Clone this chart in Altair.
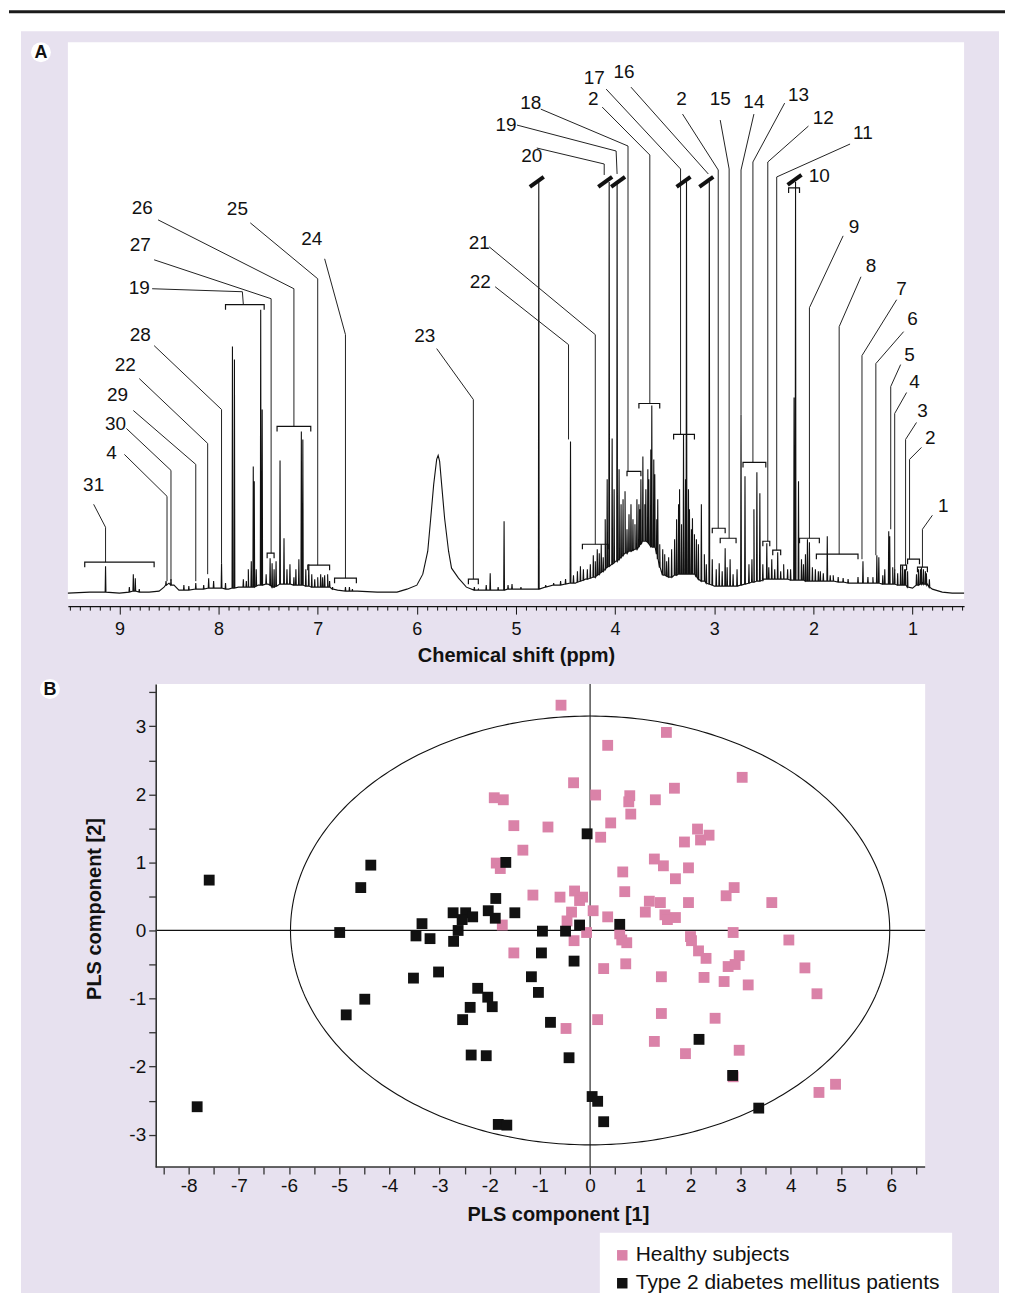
import altair as alt
import numpy as np
import pandas as pd

FONT = "Liberation Sans"
INK = "#111111"
LAVENDER = "#e7e1ef"
PINK = "#da82a8"

# ======================= Panel A : 1H NMR spectrum =======================
# baseline envelope (ppm, intensity)
BASE_PPM = [9.52, 9.3, 9.0, 8.7, 8.6, 8.55, 8.5, 8.45, 8.4, 8.2, 8.0, 7.9, 7.8, 7.7, 7.6, 7.5,
            7.45, 7.3, 7.2, 7.0, 6.9, 6.8, 6.6, 6.4, 6.2, 6.1, 6.0, 5.94, 5.89, 5.86, 5.83, 5.80,
            5.785, 5.77, 5.75, 5.72, 5.68, 5.65, 5.58, 5.5, 5.4, 5.2, 5.0, 4.85, 4.6, 4.4, 4.3,
            4.2, 4.1, 4.0, 3.9, 3.8, 3.7, 3.6, 3.55, 3.5, 3.45, 3.35, 3.2, 3.1, 3.0, 2.8, 2.6,
            2.5, 2.3, 2.2, 2.0, 1.8, 1.6, 1.4, 1.2, 1.05, 1.0, 0.9, 0.85, 0.8, 0.7, 0.6, 0.48]
BASE_INT = [6, 7, 6, 7, 8, 12, 16, 14, 9, 10, 11, 10, 12, 12, 14, 15,
            12, 15, 14, 12, 12, 9, 8, 7, 7, 10, 14, 25, 48, 81, 115, 140,
            144, 138, 115, 81, 48, 31, 21, 12, 9, 9, 10, 10, 14, 16, 20,
            22, 31, 38, 46, 50, 58, 52, 32, 24, 22, 25, 25, 18, 13, 13, 17,
            20, 20, 19, 18, 18, 16, 16, 15, 14, 11, 16, 15, 10, 7, 6, 6]

# sharp resonances: (ppm, top intensity, local baseline)
PEAKS = [
    (9.14, 33, 7), (8.86, 25, 8), (8.84, 21, 8), (8.53, 18, 14), (8.48, 20, 14), (8.23, 16, 10),
    (8.10, 21, 11), (7.97, 36, 11), (7.86, 253, 11), (7.84, 240, 11), (7.67, 38, 12),
    (7.65, 133, 12), (7.64, 118, 12), (7.575, 290, 14), (7.56, 190, 14), (7.48, 41, 14),
    (7.46, 36, 12), (7.44, 30, 12), (7.38, 139, 15), (7.34, 61, 15), (7.31, 30, 15),
    (7.24, 22, 14), (7.165, 168, 14), (7.15, 160, 14), (7.06, 25, 12), (7.00, 22, 12),
    (6.97, 25, 12), (6.93, 24, 12), (6.88, 18, 12), (6.68, 12, 8), (5.42, 12, 9), (5.38, 10, 9),
    (5.26, 26, 9), (5.12, 78, 9), (5.04, 15, 10), (4.77, 418, 10), (4.45, 158, 16),
    (4.35, 33, 18), (4.28, 30, 20), (4.20, 38, 22), (4.16, 46, 25), (4.12, 42, 28),
    (4.06, 418, 33), (4.03, 161, 35), (3.98, 418, 38), (3.96, 130, 40), (3.92, 100, 44),
    (3.90, 108, 46), (3.86, 85, 48), (3.84, 95, 48), (3.80, 75, 50), (3.78, 100, 50),
    (3.75, 90, 54), (3.72, 143, 58), (3.69, 110, 58), (3.66, 120, 55), (3.63, 194, 52),
    (3.60, 125, 52), (3.57, 100, 40), (3.52, 50, 24), (3.46, 42, 22), (3.40, 60, 24),
    (3.35, 110, 25), (3.31, 165, 25), (3.28, 418, 25), (3.25, 90, 25), (3.22, 81, 25),
    (3.18, 60, 22), (3.13, 95, 18), (3.05, 418, 15), (3.02, 40, 14), (2.95, 36, 13),
    (2.89, 51, 13), (2.84, 40, 13), (2.73, 185, 14), (2.69, 123, 15), (2.65, 35, 16),
    (2.57, 127, 18), (2.54, 106, 18), (2.47, 56, 20), (2.42, 40, 20), (2.36, 47, 20),
    (2.30, 35, 20), (2.26, 30, 20), (2.195, 202, 19), (2.18, 418, 19), (2.15, 118, 19),
    (2.10, 35, 19), (2.06, 60, 18), (2.04, 57, 18), (1.98, 30, 18), (1.93, 28, 18),
    (1.86, 63, 18), (1.80, 24, 18), (1.50, 38, 16), (1.45, 22, 16), (1.36, 44, 16),
    (1.34, 42, 16), (1.24, 68, 15), (1.23, 63, 15), (1.18, 30, 15), (1.12, 33, 14),
    (1.10, 34, 14), (1.07, 30, 14), (1.05, 28, 12), (0.94, 30, 14), (0.91, 32, 15),
    (0.89, 30, 15), (0.86, 26, 14),
]
# small spikes that make up the crowded baseline
MINOR_PEAKS = [
    (8.90, 12, 7), (8.80, 10, 7), (8.35, 14, 9), (8.30, 13, 9), (8.15, 14, 10), (8.05, 18, 11),
    (7.93, 16, 10), (7.75, 20, 12), (7.72, 18, 12), (7.70, 30, 12), (7.62, 30, 13),
    (7.52, 25, 15), (7.42, 38, 13), (7.28, 35, 15), (7.22, 30, 14), (7.19, 40, 14),
    (7.12, 30, 13), (7.09, 35, 13), (7.03, 20, 12), (6.95, 22, 12), (6.90, 25, 12),
    (6.85, 12, 10), (6.72, 12, 8), (6.65, 10, 8), (5.30, 14, 9), (5.18, 12, 9), (5.08, 14, 10),
    (4.95, 12, 10), (4.70, 14, 12), (4.62, 16, 14), (4.55, 18, 14), (4.50, 20, 15),
    (4.42, 24, 16), (4.38, 28, 17), (4.32, 30, 19), (4.25, 35, 21), (4.22, 44, 22),
    (4.18, 50, 24), (4.14, 55, 27), (4.10, 80, 30), (4.08, 120, 32), (4.01, 110, 36),
    (3.94, 95, 42), (3.88, 70, 46), (3.82, 80, 49), (3.76, 95, 52), (3.74, 120, 55),
    (3.70, 95, 58), (3.67, 130, 57), (3.64, 150, 53), (3.61, 140, 52), (3.58, 80, 45),
    (3.55, 55, 32), (3.50, 45, 24), (3.48, 38, 23), (3.43, 50, 22), (3.38, 80, 24),
    (3.36, 95, 25), (3.33, 75, 25), (3.29, 120, 25), (3.26, 110, 25), (3.23, 70, 25),
    (3.20, 65, 25), (3.16, 55, 20), (3.10, 45, 18), (3.08, 35, 16), (2.98, 30, 13),
    (2.92, 28, 13), (2.87, 32, 13), (2.81, 25, 13), (2.77, 30, 13), (2.62, 40, 17),
    (2.60, 90, 17), (2.51, 35, 19), (2.45, 32, 20), (2.39, 30, 20), (2.33, 28, 20),
    (2.23, 30, 19), (2.12, 40, 19), (2.08, 45, 18), (2.01, 32, 18), (1.95, 28, 18),
    (1.90, 26, 18), (1.83, 24, 18), (1.75, 22, 17), (1.70, 21, 17), (1.65, 20, 16),
    (1.55, 22, 16), (1.40, 22, 16), (1.30, 24, 15), (1.28, 30, 15), (1.20, 32, 15),
    (1.15, 26, 14), (1.08, 30, 14), (0.96, 25, 14), (0.92, 30, 15), (0.87, 28, 15),
    (0.83, 20, 12),
]

# truncated (off-scale) peaks: break marks (ppm, intensity)
BREAKS = [(4.79, 418), (4.10, 418), (3.97, 418), (3.31, 418), (3.08, 418), (2.19, 420)]

# assignment brackets: (left ppm, right ppm, intensity)
BRACKETS = [
    (9.35, 8.65, 37), (7.93, 7.54, 295), (7.51, 7.44, 46), (7.41, 7.07, 173), (7.10, 6.88, 34),
    (6.83, 6.61, 21), (5.48, 5.38, 20), (4.33, 4.07, 55), (3.88, 3.74, 128), (3.76, 3.55, 196),
    (3.41, 3.20, 165), (3.02, 2.89, 71), (2.94, 2.78, 61), (2.71, 2.48, 137), (2.51, 2.44, 58),
    (2.41, 2.33, 49), (2.25, 2.14, 412), (2.14, 1.94, 61), (1.97, 1.55, 45), (1.12, 1.06, 34),
    (1.05, 0.93, 40), (0.95, 0.85, 32),
]

# metabolite numbers and their leader lines
LABEL_TEXT = ["31", "4", "30", "29", "22", "28", "19", "27", "26", "25", "24", "23", "22", "21",
              "20", "19", "18", "2", "17", "16", "2", "15", "14", "13", "12", "11", "10", "9",
              "8", "7", "6", "5", "4", "3", "2", "1"]
LABEL_PPM = [9.26, 9.08, 9.04, 9.02, 8.94, 8.79, 8.80, 8.79, 8.77, 7.81, 7.06, 5.92, 5.36, 5.37,
             4.84, 5.10, 4.85, 4.22, 4.21, 3.91, 3.33, 2.94, 2.60, 2.15, 1.90, 1.50, 1.94, 1.59,
             1.42, 1.11, 1.00, 1.03, 0.98, 0.90, 0.82, 0.69]
LABEL_INT = [114, 146, 175, 205, 235, 265, 312, 355, 392, 391, 361, 264, 318, 357,
             444, 475, 497, 501, 522, 528, 501, 501, 498, 505, 482, 467, 424, 373,
             334, 311, 281, 245, 218, 188, 161, 93]
LEADER_PPM = [
    [9.26, 9.14, 9.14], [8.95, 8.52, 8.52], [8.93, 8.48, 8.48], [8.86, 8.23, 8.23],
    [8.80, 8.11, 8.11], [8.65, 7.97, 7.97], [8.67, 7.76, 7.75], [8.65, 7.47, 7.47],
    [8.61, 7.24, 7.24], [7.68, 7.00, 7.00], [6.93, 6.72, 6.72], [5.80, 5.43, 5.43],
    [5.21, 4.47, 4.47], [5.27, 4.20, 4.20], [4.79, 4.11, 4.11], [4.99, 3.99, 3.98],
    [4.75, 3.87, 3.87], [4.13, 3.65, 3.65], [4.09, 3.34, 3.34], [3.84, 3.06],
    [3.32, 2.96, 2.96], [2.94, 2.85, 2.85], [2.60, 2.73, 2.73], [2.29, 2.61, 2.61],
    [2.05, 2.46, 2.46], [1.63, 2.37, 2.37], [], [1.70, 2.04, 2.04],
    [1.52, 1.74, 1.74], [1.16, 1.51, 1.51], [1.09, 1.37, 1.37], [1.12, 1.22, 1.22],
    [1.06, 1.18, 1.18], [0.96, 1.07, 1.07], [0.91, 1.03, 1.03], [0.80, 0.90, 0.90],
]
LEADER_INT = [
    [95, 72, 37], [145, 103, 18], [171, 129, 18], [189, 135, 18],
    [221, 156, 25], [254, 190, 36], [311, 308, 295], [340, 301, 46],
    [380, 311, 173], [377, 321, 34], [341, 265, 21], [251, 200, 20],
    [313, 255, 160], [353, 265, 55], [452, 436, 425], [475, 449, 426],
    [491, 454, 128], [493, 445, 196], [511, 431, 165], [513, 426],
    [486, 430, 71], [480, 431, 61], [486, 430, 185], [497, 438, 137],
    [474, 438, 58], [456, 423, 49], [], [364, 292, 61],
    [323, 273, 45], [300, 244, 40], [268, 236, 44], [235, 213, 70],
    [207, 186, 28], [177, 160, 34], [152, 140, 40], [84, 70, 32],
]

A_TICKS = [round(9.5 - 0.1 * k, 1) for k in range(91)]

# ======================= Panel B : PLS scores =======================
HEALTHY_X = [-0.58, 0.35, 1.52, -0.33, 3.03, -1.91, -1.73, 0.11, 0.79, 0.77, 1.30, 1.68, 0.81,
             -1.52, -0.84, 0.41, 0.21, -1.34, 2.14, 2.20, 2.37, 1.88, -1.87, -1.79, 1.28, 1.46,
             1.96, 0.65, 1.70, -1.14, -0.60, -0.31, -0.15, -0.21, 0.69, 2.87, 2.71, 3.62, 1.18,
             1.40, 1.10, 1.96, 0.06, -0.37, -0.46, -1.75, 0.35, 1.49, 1.70, 1.54, -0.07, -0.32,
             0.59, 0.63, 0.73, 2.00, 2.02, 2.85, 3.96, 2.16, 2.31, 2.97, 2.75, 2.89, 0.27, 0.71,
             1.42, 2.27, 2.67, 3.15, 4.28, 4.52, -1.52, 0.15, 1.42, 2.49, -0.48, 1.28, 1.90,
             2.97, 2.85, 4.56, 4.89]
HEALTHY_Y = [3.31, 2.72, 2.91, 2.17, 2.25, 1.95, 1.92, 1.99, 1.98, 1.89, 1.92, 2.09, 1.71,
             1.54, 1.52, 1.58, 1.37, 1.18, 1.49, 1.33, 1.40, 1.30, 0.99, 0.91, 1.05, 0.95,
             0.92, 0.86, 0.76, 0.52, 0.49, 0.58, 0.49, 0.44, 0.57, 0.63, 0.51, 0.41, 0.43,
             0.41, 0.27, 0.41, 0.29, 0.27, 0.14, 0.08, 0.20, 0.23, 0.19, 0.16, -0.03, -0.15,
             -0.05, -0.14, -0.18, -0.09, -0.15, -0.03, -0.14, -0.30, -0.41, -0.37, -0.53, -0.50,
             -0.56, -0.49, -0.68, -0.69, -0.75, -0.80, -0.55, -0.93, -0.33, -1.31, -1.22, -1.29,
             -1.44, -1.63, -1.81, -1.76, -2.15, -2.38, -2.26]
T2DM_X = [-7.59, -4.37, -4.57, -1.68, -0.06, -1.88, -2.73, -2.48, -2.55, -2.34, -2.03, -1.89,
          -1.50, -3.35, -4.99, -3.47, -3.19, -2.63, -2.72, -0.95, -0.49, -0.21, 0.59, -0.97,
          -0.32, -3.02, -3.52, -1.17, -2.24, -1.03, -2.04, -1.95, -4.49, -4.86, -2.39, -2.54,
          -0.79, -2.37, -2.07, -0.42, -7.83, -1.83, -1.66, 0.04, 0.15, 0.27, 2.17, 2.84, 3.36]
T2DM_Y = [0.74, 0.96, 0.63, 1.00, 1.42, 0.47, 0.26, 0.26, 0.16, 0.20, 0.29, 0.18,
          0.26, 0.10, -0.03, -0.08, -0.12, 0.00, -0.16, -0.01, -0.01, 0.08, 0.09, -0.33,
          -0.45, -0.61, -0.70, -0.68, -0.85, -0.91, -0.98, -1.12, -1.01, -1.24, -1.13, -1.31,
          -1.35, -1.83, -1.84, -1.87, -2.59, -2.85, -2.86, -2.44, -2.51, -2.81, -1.60, -2.13, -2.61]
GROUPS = ["Healthy subjects", "Type 2 diabetes mellitus patients"]

ELLIPSE_RX, ELLIPSE_RY = 5.97, 3.15          # Hotelling T2 ellipse semi-axes
X_B_DOMAIN = [-10.406, 6.676]
Y_B_DOMAIN = [-3.475, 3.622]
B_PLOT_LEFT = -8.656
B_X_TICKS = [-8.5 + 0.5 * k for k in range(31)]
B_Y_TICKS = [-3.5 + 0.5 * k for k in range(15)]

# ======================= build tables =======================
HW = 0.004
pts = list(zip(BASE_PPM, BASE_INT))
for p, top, base in PEAKS + MINOR_PEAKS:
    pts += [(p + HW, base), (p, top), (p - HW, base)]
pts.sort(key=lambda t: -t[0])
spec_df = pd.DataFrame({"ppm": [a for a, _ in pts], "intensity": [b for _, b in pts],
                        "i": range(len(pts))})

lead_rows = []
for k, (pp, vv) in enumerate(zip(LEADER_PPM, LEADER_INT)):
    for s, (a, b) in enumerate(zip(pp, vv)):
        lead_rows.append({"id": k, "s": s, "ppm": a, "intensity": b})
lead_df = pd.DataFrame(lead_rows)

TICK = 5
br_rows = []
for k, (l, r, v) in enumerate(BRACKETS):
    for s, (a, b) in enumerate([(l, v - TICK), (l, v), (r, v), (r, v - TICK)]):
        br_rows.append({"id": k, "s": s, "ppm": a, "intensity": b})
br_df = pd.DataFrame(br_rows)

brk_df = pd.DataFrame({"ppm": [p + 0.07 for p, _ in BREAKS], "ppm_end": [p - 0.07 for p, _ in BREAKS],
                       "intensity": [v - 5 for _, v in BREAKS], "intensity_end": [v + 5 for _, v in BREAKS]})
lab_df = pd.DataFrame({"ppm": LABEL_PPM, "intensity": LABEL_INT, "t": LABEL_TEXT})

one = pd.DataFrame({"k": [0]})

xA = alt.Scale(domain=[9.52, 0.48], nice=False, zero=False)
yA = alt.Scale(domain=[0, 558], nice=False, zero=False)
axisA = alt.Axis(values=A_TICKS, labelExpr="datum.value % 1 === 0 ? '' + datum.value : ''",
                 tickSize={"condition": {"test": "datum.value % 1 === 0", "value": 8}, "value": 4},
                 offset=7, grid=False, domainColor=INK, domainWidth=1.3, tickColor=INK,
                 tickWidth=1, labelFontSize=18, labelColor=INK, labelPadding=6,
                 labelFlush=False, labelOverlap=False, zindex=1,
                 titleFontSize=20, titleFontWeight="bold", titleColor=INK, titlePadding=8)
TITLE_A = "Chemical shift (ppm)"


def XA(f="ppm"):
    return alt.X(f"{f}:Q", scale=xA, axis=axisA, title=TITLE_A)


def YA(f="intensity"):
    return alt.Y(f"{f}:Q", scale=yA, axis=None)


dark = alt.Chart(one).mark_rect(color="#1b1b1b").encode(
    x=alt.value(-59), x2=alt.value(939), y=alt.value(-32), y2=alt.value(-29))
lav = alt.Chart(one).mark_rect(color=LAVENDER).encode(
    x=alt.value(-47), x2=alt.value(933), y=alt.value(-11), y2=alt.value(1262))
whiteA = alt.Chart(one).mark_rect(color="white").encode(
    x=alt.value(0), x2=alt.value(898), y=alt.value(0), y2=alt.value(558))

spectrum = alt.Chart(spec_df).mark_line(color=INK, strokeWidth=1.1).encode(
    x=XA(), y=YA(), order="i:Q")
leaders = alt.Chart(lead_df).mark_line(color="#222222", strokeWidth=1).encode(
    x=XA(), y=YA(), detail="id:N", order="s:Q")
brackets = alt.Chart(br_df).mark_line(color=INK, strokeWidth=1.2).encode(
    x=XA(), y=YA(), detail="id:N", order="s:Q")
breaks = alt.Chart(brk_df).mark_rule(color=INK, strokeWidth=4).encode(
    x=XA(), x2="ppm_end:Q", y=YA(), y2="intensity_end:Q")
labels = alt.Chart(lab_df).mark_text(fontSize=19, color=INK, font=FONT).encode(
    x=XA(), y=YA(), text="t:N")
badgeA = alt.Chart(one).mark_point(shape="circle", size=400, filled=True, fill="white",
                                   opacity=1, strokeWidth=0).encode(x=alt.value(-27), y=alt.value(10))
letterA = alt.Chart(one).mark_text(text="A", fontSize=18, fontWeight="bold", color=INK,
                                   font=FONT).encode(x=alt.value(-27), y=alt.value(11))

panelA = alt.layer(dark, lav, whiteA, spectrum, leaders, brackets, breaks, labels,
                   badgeA, letterA).properties(width=898, height=558)

# ---------- panel B ----------
pts_df = pd.DataFrame({
    "x": HEALTHY_X + T2DM_X,
    "y": HEALTHY_Y + T2DM_Y,
    "group": [GROUPS[0]] * len(HEALTHY_X) + [GROUPS[1]] * len(T2DM_X),
})
theta = np.linspace(0, 2 * np.pi, 361)
ell_df = pd.DataFrame({"x": ELLIPSE_RX * np.cos(theta), "y": ELLIPSE_RY * np.sin(theta),
                       "i": np.arange(361)})

xB = alt.Scale(domain=X_B_DOMAIN, nice=False, zero=False)
yB = alt.Scale(domain=Y_B_DOMAIN, nice=False, zero=False)
LBL = "datum.value % 1 === 0 ? '' + datum.value : ''"
axisBx = alt.Axis(values=B_X_TICKS, labelExpr=LBL, tickSize=7, domain=False, grid=False,
                  tickColor="#333333", tickWidth=1.3, labelFontSize=19, labelColor=INK,
                  labelPadding=3, labelFlush=False, labelOverlap=False,
                  titleFontSize=20, titleFontWeight="bold", titleColor=INK, titlePadding=9,
                  titleX=491, zindex=1)
axisBy = alt.Axis(values=B_Y_TICKS, labelExpr=LBL, tickSize=7, offset=-88, grid=False,
                  domainColor="#333333", domainWidth=1.6, tickColor="#333333", tickWidth=1.3,
                  labelFontSize=19, labelColor=INK, labelPadding=3, labelFlush=False,
                  labelOverlap=False, titleFontSize=20, titleFontWeight="bold", titleColor=INK,
                  titlePadding=24, titleY=225, zindex=1)
TX, TY = "PLS component [1]", "PLS component [2]"


def XB(f="x"):
    return alt.X(f"{f}:Q", scale=xB, axis=axisBx, title=TX)


def YB(f="y"):
    return alt.Y(f"{f}:Q", scale=yB, axis=axisBy, title=TY)


frame_df = pd.DataFrame({"x": [B_PLOT_LEFT], "x_end": [X_B_DOMAIN[1]],
                         "y": [Y_B_DOMAIN[0]], "y_end": [Y_B_DOMAIN[1]], "zero": [0.0]})
whiteB = alt.Chart(frame_df).mark_rect(color="white").encode(
    x=XB(), x2="x_end:Q", y=YB(), y2="y_end:Q")
vzero = alt.Chart(frame_df).mark_rule(color="#555555", strokeWidth=1.5).encode(x=XB("zero"))
hzero = alt.Chart(frame_df).mark_rule(color=INK, strokeWidth=1.2).encode(
    x=XB(), x2="x_end:Q", y=YB("zero"))
bottom = alt.Chart(frame_df).mark_rule(color="#333333", strokeWidth=1.6).encode(
    x=XB(), x2="x_end:Q", y=YB())
ellipse = alt.Chart(ell_df).mark_line(color=INK, strokeWidth=1.1).encode(
    x=XB(), y=YB(), order="i:Q")
points = alt.Chart(pts_df).mark_square(size=118, opacity=1, strokeWidth=0).encode(
    x=XB(), y=YB(),
    color=alt.Color("group:N", scale=alt.Scale(domain=GROUPS, range=[PINK, INK]),
                    legend=alt.Legend(orient="none", legendX=533, legendY=1193, title=None,
                                      symbolType="square", symbolSize=110, symbolStrokeWidth=0,
                                      labelFontSize=21, labelColor=INK, labelFont=FONT,
                                      labelLimit=600, labelOffset=3, fillColor="white",
                                      padding=12, rowPadding=6)))
badgeB = alt.Chart(one).mark_point(shape="circle", size=400, filled=True, fill="white",
                                   opacity=1, strokeWidth=0).encode(x=alt.value(-18), y=alt.value(5))
letterB = alt.Chart(one).mark_text(text="B", fontSize=18, fontWeight="bold", color=INK,
                                   font=FONT).encode(x=alt.value(-18), y=alt.value(6))

panelB = alt.layer(whiteB, vzero, hzero, ellipse, bottom, points, badgeB, letterB).properties(
    width=859, height=484)

chart = alt.vconcat(panelA, panelB, spacing=85, bounds="flush").properties(
    padding=0, background="white").configure(font=FONT).configure_view(stroke="transparent")

chart.save("out.html", embed_options={"renderer": "svg", "actions": False})
